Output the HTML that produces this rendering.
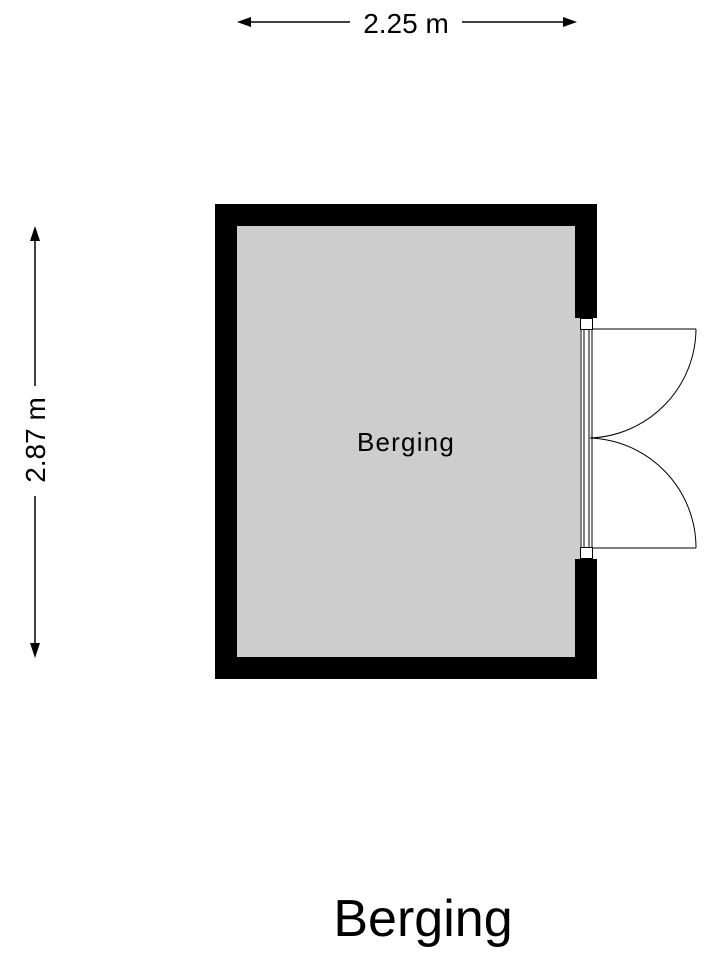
<!DOCTYPE html>
<html><head><style>body{margin:0;background:#fff}</style></head><body>
<svg width="720" height="960" xmlns="http://www.w3.org/2000/svg" font-family="Liberation Sans, sans-serif">
<rect x="215" y="204" width="382" height="475" fill="#000"/>
<rect x="237" y="226" width="338" height="431" fill="#cdcdcd"/>
<rect x="575" y="318" width="23" height="241" fill="#fff"/>
<rect x="575" y="318" width="5" height="241" fill="#cdcdcd"/>
<rect x="580.5" y="318.5" width="12" height="11" fill="#fff" stroke="#000"/>
<rect x="580.5" y="547.5" width="12" height="11" fill="#fff" stroke="#000"/>
<g stroke="#000" stroke-width="1" fill="none">
<line x1="581" y1="329" x2="581" y2="548"/>
<line x1="584" y1="329" x2="584" y2="548"/>
<line x1="589" y1="329" x2="589" y2="548"/>
<line x1="592" y1="329" x2="592" y2="548"/>
<line x1="592" y1="329" x2="696" y2="329"/>
<line x1="592" y1="548" x2="696" y2="548"/>
<path d="M696 329 A110 110 0 0 1 590 438"/>
<path d="M590 438 A110 110 0 0 1 696 548"/>
<line x1="245" y1="22" x2="350" y2="22" stroke-width="1.5"/>
<line x1="462" y1="22" x2="568" y2="22" stroke-width="1.5"/>
<line x1="35" y1="234" x2="35" y2="386" stroke-width="1.5"/>
<line x1="35" y1="496" x2="35" y2="650" stroke-width="1.5"/>
</g>
<polygon points="237,22 251,17 251,27" fill="#000"/>
<polygon points="577,22 563,17 563,27" fill="#000"/>
<polygon points="35,226 30,241 40,241" fill="#000"/>
<polygon points="35,658 30,643 40,643" fill="#000"/>
<text x="406" y="33" font-size="28" text-anchor="middle">2.25 m</text>
<text transform="translate(45,440) rotate(-90)" font-size="28" text-anchor="middle">2.87 m</text>
<text x="406" y="451" font-size="26" text-anchor="middle" letter-spacing="1.2">Berging</text>
<text x="423" y="936" font-size="52" text-anchor="middle">Berging</text>
</svg>
</body></html>
